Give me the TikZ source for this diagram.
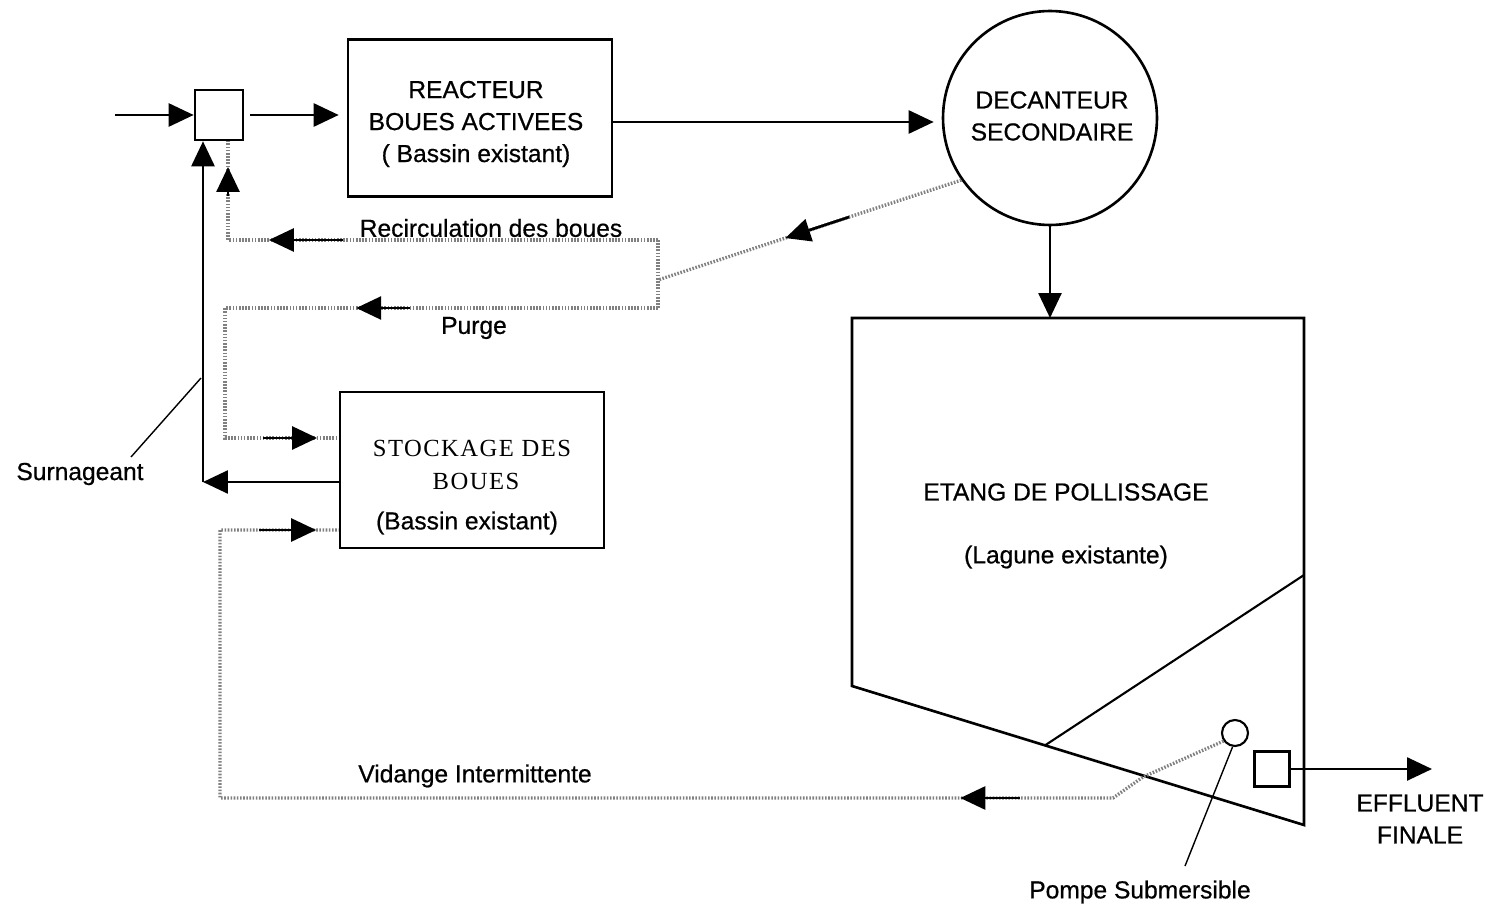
\documentclass[tikz,border=0pt]{standalone}
\usepackage{fontspec}
\setmainfont{Liberation Sans}[FakeBold=0.6]
\newfontfamily\stockfont{Liberation Serif}[LetterSpace=6]
\usetikzlibrary{arrows.meta,calc}

\begin{document}
\begin{tikzpicture}[x=0.02cm,y=-0.02cm,
  txt/.style={inner sep=0pt,align=center,font=\fontsize{14}{18.2}\selectfont},
  stocktxt/.style={inner sep=0pt,align=center,font=\stockfont\fontsize{14}{18}\selectfont},
  pipe/.style={line width=1.5pt,black},
  sludge/.style={line width=1.9pt,black!50,dash pattern=on 0.9pt off 0.9pt},
  flow/.style={pipe,-{Triangle[length=0.5cm,width=0.46cm]}},
  tank/.style={draw,line width=1.5pt,rectangle,inner sep=0pt},
  leader/.style={line width=0.8pt,black},
]
\fill[white] (0,0) rectangle (1485,909);
\useasboundingbox (0,0) rectangle (1485,909);

% ---- units ----
\node[tank,minimum width=0.96cm,minimum height=1.0cm] (mix) at (219,115) {};
\node[tank,minimum width=5.28cm,minimum height=3.14cm] (reac) at (480,118) {};
\node[txt] (reactxt) at (476,124) {REACTEUR\\BOUES ACTIVEES\\( Bassin existant)};

\node[draw,circle,line width=1.5pt,minimum size=4.28cm,inner sep=0pt] (dec) at (1050,118) {};
\node[txt] (dectxt) at (1052,116) {DECANTEUR\\SECONDAIRE};

\node[tank,minimum width=5.28cm,minimum height=3.12cm] (stock) at (472,470) {};
\node[stocktxt] (stock1) at (472,448) {STOCKAGE DES};
\node[stocktxt] (stock2) at (476,481) {BOUES};
\node[txt] (stock3) at (467,523) {(Bassin existant)};

% ---- polishing pond ----
\coordinate (p1) at (852,318);
\coordinate (p2) at (1304,318);
\coordinate (p3) at (1304,825);
\coordinate (p4) at (852,686);
\draw[pipe,line join=miter] (p1) -- (p2) -- (p3) -- (p4) -- cycle;
\coordinate (w1) at ($(p4)!0.427!(p3)$);
\coordinate (w2) at (1304,575);
\draw[line width=1.2pt] (w1) -- (w2);
\node[txt] (pondtxt) at (1066,492) {ETANG DE POLLISSAGE};
\node[txt] (pondtxt2) at (1066,557) {(Lagune existante)};

\node[draw,circle,line width=1.2pt,minimum size=0.52cm,inner sep=0pt] (pump) at (1235,733) {};
\node[draw,line width=1.2pt,minimum size=0.7cm,inner sep=0pt] (out) at (1272,769) {};
\coordinate (eff) at (1432,769);
\draw[flow] (out.east) -- (eff);
\node[txt] (efftxt) at (1420,819) {EFFLUENT\\FINALE};

\node[txt] (pumptxt) at (1140,892) {Pompe Submersible};
\coordinate (pumpleader) at (1185,866);
\draw[leader] (pump.260) -- (pumpleader);

% ---- main flow ----
\coordinate (src) at (115,115);
\draw[flow] (src) -- (mix.west);
\draw[flow,shorten <=0.12cm,shorten >=0.16cm] (mix.east) -- (reac.west |- mix.east);
\draw[flow,shorten >=0.16cm] ([yshift=-0.08cm]reac.east) -- ([yshift=-0.08cm]reac.east -| dec.west);
\draw[flow] (dec.south) -- (dec.south |- p1);

% ---- supernatant return ----
\coordinate (sc) at (203,482);
\draw[flow] (stock.west |- sc) -- (sc);
\draw[flow] (sc) -- (sc |- mix.south);
\node[txt] (surn) at (80,474) {Surnageant};
\coordinate (surnA) at (131,457);
\coordinate (surnB) at (201,378);
\draw[leader] (surnA) -- (surnB);

% ---- sludge lines ----
\coordinate (rj) at (658,280);
\coordinate (rt) at (658,240);
\coordinate (rb) at (658,308);
\coordinate (rl) at (228,240);
\coordinate (pl) at (225,308);
\coordinate (pl2) at (225,438);
\coordinate (vk1) at (1143,777);
\coordinate (vk2) at (1113,798);
\coordinate (vl) at (220,798);
\coordinate (vl2) at (220,530);

\draw[sludge] (dec.215) -- (rj);
\draw[sludge] (rt) -- (rb);
\draw[sludge] (rt) -- (rl) -- (rl |- mix.south);
\draw[sludge] (rb) -- (pl) -- (pl2) -- (pl2 -| stock.west);
\draw[sludge] (pump.215) -- (vk1) -- (vk2) -- (vl) -- (vl2) -- (vl2 -| stock.west);

% flow direction marks on the sludge lines
\draw[flow] ($(dec.215)!0.37!(rj)$) -- ($(dec.215)!0.58!(rj)$);
\draw[flow] ($(rt)!0.733!(rl)$) -- ($(rt)!0.905!(rl)$);
\draw[flow] ($(rl)!0.45!(rl |- mix.south)$) -- ($(rl)!0.74!(rl |- mix.south)$);
\draw[flow] ($(rb)!0.573!(pl)$) -- ($(rb)!0.697!(pl)$);
\draw[flow] ($(pl2)!0.33!(pl2 -| stock.west)$) -- ($(pl2)!0.81!(pl2 -| stock.west)$);
\draw[flow] ($(vl2)!0.33!(vl2 -| stock.west)$) -- ($(vl2)!0.81!(vl2 -| stock.west)$);
\draw[flow] ($(vk2)!0.104!(vl)$) -- ($(vk2)!0.171!(vl)$);

\node[txt] (recirc) at (491,228) {Recirculation des boues};
\node[txt] (purge) at (474,328) {Purge};
\node[txt] (vidange) at (475,776) {Vidange Intermittente};
\end{tikzpicture}
\end{document}
